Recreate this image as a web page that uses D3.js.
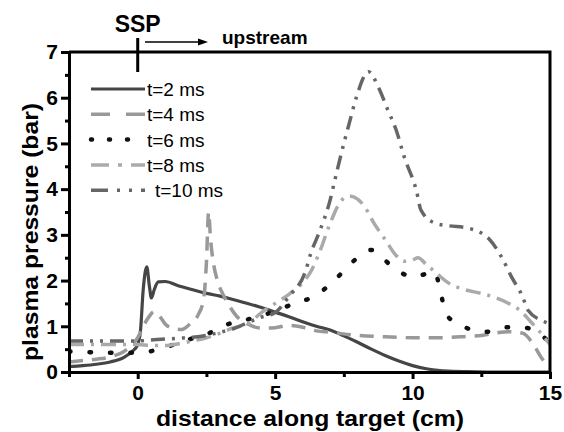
<!DOCTYPE html>
<html>
<head>
<meta charset="utf-8">
<script src="https://cdn.jsdelivr.net/npm/d3@7"></script>
<style>
  body { margin: 0; background: #fff; }
  svg { font-family: "Liberation Sans", Arial, sans-serif; }
  .axis path, .axis line { stroke: #000; stroke-width: 3; }
  .axis text { font-size: 21px; font-weight: bold; fill: #000; }
</style>
</head>
<body>
<svg id="chart" width="564" height="432"></svg>
<script>
// t = 2 ms
const x2 = [-2.5, -2, -1.5, -1, -0.5, -0.2, 0, 0.1, 0.2, 0.33, 0.42, 0.5, 0.6, 0.75, 1.0, 1.5, 2, 2.5, 3, 3.5, 4, 4.5, 5, 5.5, 6, 6.5, 7, 7.5, 8, 8.5, 9, 9.5, 10, 10.5, 11, 11.5, 12, 13, 15]
const y2 = [0.12, 0.14, 0.17, 0.22, 0.32, 0.45, 0.6, 0.9, 1.8, 2.3, 1.9, 1.62, 1.8, 1.97, 1.98, 1.88, 1.8, 1.72, 1.66, 1.58, 1.5, 1.41, 1.31, 1.21, 1.1, 1.0, 0.92, 0.79, 0.65, 0.5, 0.36, 0.24, 0.14, 0.07, 0.03, 0.015, 0.01, 0, 0]
// t = 4 ms
const x4 = [-2.5, -2, -1.5, -1, -0.5, -0.2, 0, 0.2, 0.4, 0.6, 0.8, 1.0, 1.3, 1.6, 1.9, 2.2, 2.4, 2.5, 2.58, 2.65, 2.75, 2.9, 3.1, 3.3, 3.6, 4.0, 4.5, 5, 5.5, 6, 6.5, 7, 8, 9, 10, 11, 12, 12.5, 13, 13.5, 14, 14.4, 14.7, 15]
const y4 = [0.22, 0.25, 0.28, 0.33, 0.45, 0.6, 0.75, 1.0, 1.2, 1.32, 1.22, 1.05, 0.95, 0.93, 1.05, 1.25, 1.6, 2.4, 3.5, 2.9, 2.4, 2.0, 1.7, 1.48, 1.22, 1.05, 0.96, 0.97, 1.02, 0.98, 0.9, 0.87, 0.8, 0.77, 0.75, 0.75, 0.78, 0.8, 0.85, 0.88, 0.85, 0.6, 0.3, 0.1]
// t = 6 ms
const x6 = [-2.5, -2, -1.2, -0.45, 0.3, 1.05, 1.8, 2.6, 3.3, 4.0, 4.85, 5.7, 6.4, 7.1, 7.8, 8.5, 9.2, 10, 10.5, 10.8, 11.0, 11.2, 11.5, 11.9, 12.3, 12.7, 13.1, 13.4, 13.8, 14.2, 14.6, 15]
const y6 = [0.45, 0.44, 0.42, 0.42, 0.44, 0.55, 0.7, 0.85, 1.05, 1.15, 1.3, 1.5, 1.65, 1.97, 2.4, 2.67, 2.34, 2.08, 2.15, 2.2, 1.8, 1.3, 1.1, 0.98, 0.9, 0.88, 0.93, 0.98, 0.98, 0.96, 0.85, 0.63]
// t = 8 ms
const x8 = [-2.5, -2, -1, 0, 0.5, 1, 1.5, 2, 2.5, 3, 3.5, 4, 4.5, 5, 5.5, 6, 6.3, 6.6, 7.0, 7.35, 7.7, 8.0, 8.25, 8.6, 9.0, 9.4, 9.7, 10.0, 10.2, 10.5, 10.8, 11.3, 11.9, 12.5, 12.9, 13.5, 13.9, 14.3, 14.6, 15]
const y8 = [0.6, 0.6, 0.6, 0.6, 0.58, 0.58, 0.62, 0.68, 0.75, 0.85, 0.97, 1.05, 1.3, 1.5, 1.7, 1.95, 2.2, 2.6, 3.25, 3.7, 3.85, 3.78, 3.62, 3.25, 2.9, 2.55, 2.42, 2.45, 2.5, 2.35, 2.2, 1.95, 1.8, 1.72, 1.65, 1.5, 1.35, 1.1, 0.9, 0.6]
// t = 10 ms
const x10 = [-2.5, -2, -1, 0, 0.5, 1, 1.5, 2, 2.5, 3, 3.5, 4, 4.5, 5, 5.5, 6.1, 6.3, 6.6, 7.0, 7.2, 7.5, 7.7, 7.95, 8.4, 8.75, 9.1, 9.4, 9.7, 10.15, 10.3, 10.8, 11.3, 12.0, 12.8, 13.25, 13.6, 14.0, 14.2, 14.8, 15]
const y10 = [0.68, 0.68, 0.68, 0.68, 0.7, 0.72, 0.74, 0.76, 0.8, 0.87, 0.95, 1.08, 1.2, 1.3, 1.65, 2.2, 2.6, 3.05, 3.76, 4.27, 5.0, 5.45, 6.0, 6.57, 6.24, 5.73, 5.3, 4.7, 3.94, 3.55, 3.26, 3.2, 3.15, 2.9, 2.5, 2.08, 1.65, 1.35, 1.1, 1.05]

const seriesNames = ['t=2 ms', 't=4 ms', 't=6 ms', 't=8 ms', 't=10 ms']
const xTicks = [0, 5, 10, 15]
const yTicks = [0, 1, 2, 3, 4, 5, 6, 7]

const styles = [
  { color: '#454545', dash: null, legendDash: null, width: 3.2, cap: 'butt' },
  { color: '#999999', dash: '14,9', legendDash: '19,16', width: 3.5, cap: 'butt' },
  { color: '#111111', dash: '1.5,19', legendDash: '1,17', width: 4.5, cap: 'round' },
  { color: '#aaaaaa', dash: '15,7,3,7', legendDash: '18,9,4,9', width: 3.5, cap: 'butt' },
  { color: '#666666', dash: '14,7,3,7,3,7', legendDash: '17,9,3,9,3,9', width: 3.5, cap: 'butt' }
]

const margin = { left: 69, right: 14, top: 52, bottom: 60 }
const width = 564, height = 432
const svg = d3.select('#chart')

const x = d3.scaleLinear().domain([-2.5, 15]).range([margin.left, width - margin.right])
const y = d3.scaleLinear().domain([0, 7]).range([height - margin.bottom, margin.top])

svg.append('defs').append('clipPath').attr('id', 'clip')
  .append('rect')
  .attr('x', x(-2.5)).attr('y', y(7))
  .attr('width', x(15) - x(-2.5)).attr('height', y(0) - y(7))

const series = [[x2, y2], [x4, y4], [x6, y6], [x8, y8], [x10, y10]]
  .map(([xs, ys]) => xs.map((v, i) => [v, ys[i]]))

const line = d3.line()
  .x(d => x(d[0]))
  .y(d => y(d[1]))
  .curve(d3.curveMonotoneX)

const lines = svg.append('g').attr('clip-path', 'url(#clip)')
series.forEach((pts, i) => {
  const s = styles[i]
  lines.append('path')
    .datum(pts)
    .attr('d', line)
    .attr('fill', 'none')
    .attr('stroke', s.color)
    .attr('stroke-width', s.width)
    .attr('stroke-dasharray', s.dash)
    .attr('stroke-linecap', s.cap)
    .attr('stroke-linejoin', 'round')
})

// frame top and right
svg.append('path')
  .attr('d', `M${x(-2.5)},${y(7)}H${x(15)}V${y(0)}`)
  .attr('fill', 'none').attr('stroke', '#000').attr('stroke-width', 3)

// minor ticks
svg.append('g').attr('class', 'axis')
  .attr('transform', `translate(0,${y(0)})`)
  .call(d3.axisBottom(x).tickValues([-2.5, 2.5, 7.5, 12.5]).tickSize(5).tickFormat(''))
  .call(g => g.select('.domain').remove())
svg.append('g').attr('class', 'axis')
  .attr('transform', `translate(${x(-2.5)},0)`)
  .call(d3.axisLeft(y).tickValues(d3.range(0.5, 7, 1)).tickSize(4).tickFormat(''))
  .call(g => g.select('.domain').remove())

svg.append('g').attr('class', 'axis')
  .attr('transform', `translate(0,${y(0)})`)
  .call(d3.axisBottom(x).tickValues(xTicks).tickFormat(d3.format('d')).tickSize(7).tickPadding(6).tickSizeOuter(0))
svg.append('g').attr('class', 'axis')
  .attr('transform', `translate(${x(-2.5)},0)`)
  .call(d3.axisLeft(y).tickValues(yTicks).tickFormat(d3.format('d')).tickSize(8).tickPadding(3).tickSizeOuter(0))

// axis titles
svg.append('text')
  .attr('x', 310).attr('y', 426)
  .attr('text-anchor', 'middle')
  .attr('font-size', 22).attr('font-weight', 'bold')
  .attr('textLength', 308).attr('lengthAdjust', 'spacingAndGlyphs')
  .text('distance along target (cm)')
svg.append('text')
  .attr('transform', 'translate(38,232) rotate(-90)')
  .attr('text-anchor', 'middle')
  .attr('font-size', 22).attr('font-weight', 'bold')
  .attr('textLength', 258).attr('lengthAdjust', 'spacingAndGlyphs')
  .text('plasma pressure (bar)')

// SSP marker and upstream arrow
svg.append('line')
  .attr('x1', x(0)).attr('x2', x(0)).attr('y1', 38).attr('y2', 72)
  .attr('stroke', '#000').attr('stroke-width', 3)
svg.append('text')
  .attr('x', x(0)).attr('y', 32)
  .attr('text-anchor', 'middle')
  .attr('font-size', 23).attr('font-weight', 'bold')
  .text('SSP')
svg.append('line')
  .attr('x1', 145).attr('x2', 200).attr('y1', 42).attr('y2', 42)
  .attr('stroke', '#000').attr('stroke-width', 1.5)
svg.append('path')
  .attr('d', 'M208,42L198,38.5L198,45.5Z')
  .attr('fill', '#000')
svg.append('text')
  .attr('x', 222).attr('y', 44)
  .attr('font-size', 19).attr('font-weight', 'bold')
  .text('upstream')

// legend
const legend = svg.append('g')
seriesNames.forEach((name, i) => {
  const s = styles[i]
  const ly = 89 + i * 25.3
  legend.append('line')
    .attr('x1', 91).attr('x2', 145).attr('y1', ly).attr('y2', ly)
    .attr('stroke', s.color)
    .attr('stroke-width', s.width)
    .attr('stroke-dasharray', s.legendDash)
    .attr('stroke-linecap', s.cap)
  legend.append('text')
    .attr('x', i === 4 ? 155 : 147).attr('y', ly + 7)
    .attr('font-size', 19)
    .text(name)
})
</script>
</body>
</html>
